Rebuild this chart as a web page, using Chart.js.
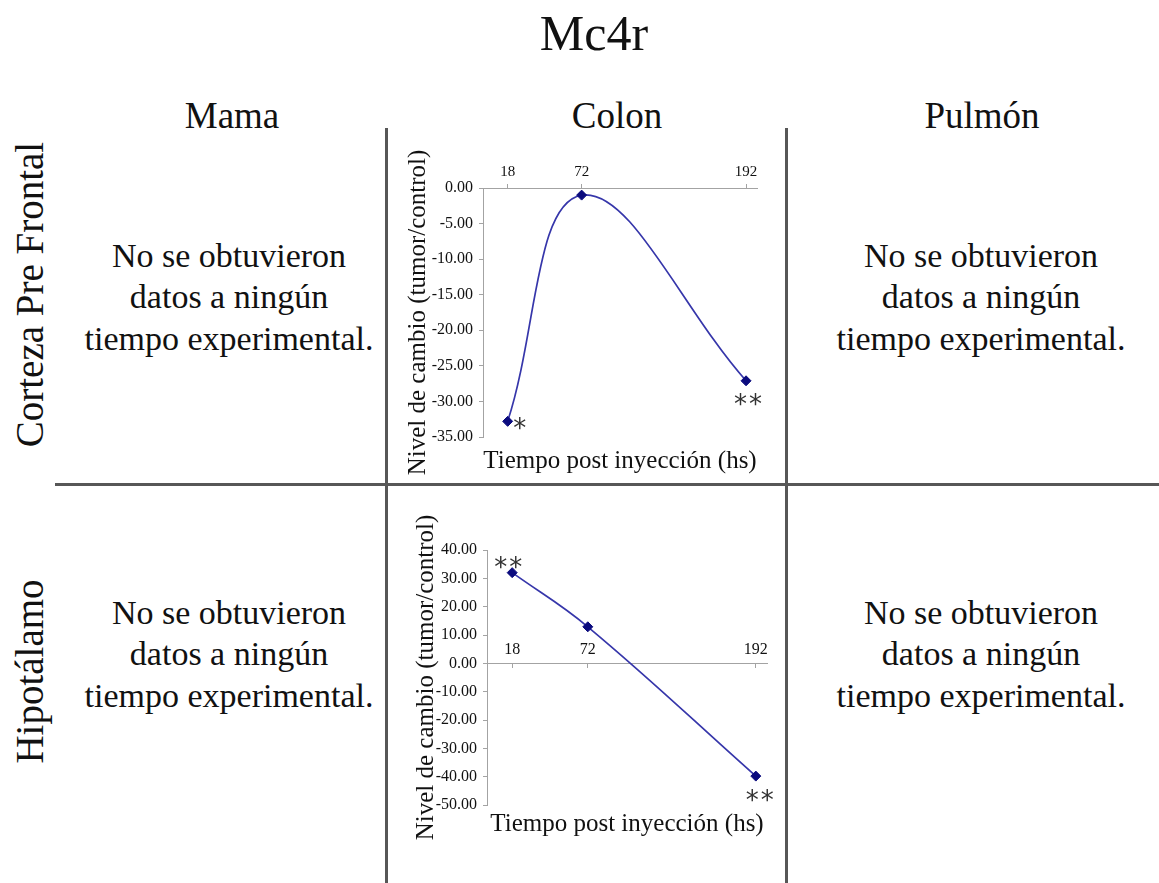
<!DOCTYPE html>
<html>
<head>
<meta charset="utf-8">
<title>Mc4r</title>
<script src="https://cdn.jsdelivr.net/npm/chart.js@4.4.1/dist/chart.umd.min.js"></script>
<style>
  html, body { margin: 0; padding: 0; background: #fff; }
  body {
    width: 1159px; height: 883px; position: relative; overflow: hidden;
    font-family: 'Liberation Serif', 'Times New Roman', serif; color: #111;
  }
  .t { position: absolute; white-space: nowrap; text-align: center; }
  .rule { position: absolute; background: #575757; }
  .rot { transform: rotate(-90deg); }
  canvas { position: absolute; }
</style>
</head>
<body>
  <div class="t" style="left:394px;width:400px;top:8px;font-size:50px;line-height:50px;">Mc4r</div>

  <div class="t" style="left:82px;width:300px;top:97px;font-size:37px;line-height:37px;">Mama</div>
  <div class="t" style="left:467px;width:300px;top:97px;font-size:37px;line-height:37px;">Colon</div>
  <div class="t" style="left:832px;width:300px;top:97px;font-size:37px;line-height:37px;">Pulmón</div>

  <div class="t rot" style="left:-181px;width:420px;top:274.5px;height:39px;font-size:39px;line-height:39px;">Corteza Pre Frontal</div>
  <div class="t rot" style="left:-181px;width:420px;top:651.5px;height:39px;font-size:39px;line-height:39px;">Hipotálamo</div>

  <div class="t" style="left:59px;width:340px;top:234.5px;font-size:34px;line-height:41.5px;">No se obtuvieron<br>datos a ningún<br>tiempo experimental.</div>
  <div class="t" style="left:811px;width:340px;top:234.5px;font-size:34px;line-height:41.5px;">No se obtuvieron<br>datos a ningún<br>tiempo experimental.</div>
  <div class="t" style="left:59px;width:340px;top:591.5px;font-size:34px;line-height:41.5px;">No se obtuvieron<br>datos a ningún<br>tiempo experimental.</div>
  <div class="t" style="left:811px;width:340px;top:591.5px;font-size:34px;line-height:41.5px;">No se obtuvieron<br>datos a ningún<br>tiempo experimental.</div>

  <div class="rule" style="left:385px;top:128px;width:3px;height:755px;"></div>
  <div class="rule" style="left:785px;top:128px;width:3px;height:755px;"></div>
  <div class="rule" style="left:55px;top:483px;width:1104px;height:3px;"></div>

  <canvas id="cortezaColon" width="370" height="337" style="left:400px;top:140px;"></canvas>
  <canvas id="hipotalamoColon" width="380" height="350" style="left:400px;top:490px;"></canvas>

<script>
// Sampling times (hours after injection) and fold change (tumor/control) in colon
const hours = [18, 72, 192];
const cortezaValues = [-32.8, -1.0, -27.1];
const hipotalamoValues = [32.0, 12.9, -39.8];

// Significance marks for each sampling time
const cortezaMarks = ['*', '', '**'];
const hipotalamoMarks = ['**', '', '**'];

// Value axis ranges: [min, max, step]
const cortezaRange = [-35, 0, 5];
const hipotalamoRange = [-50, 40, 10];
const hourRange = [0, 200];

const serif = "'Liberation Serif', 'Times New Roman', serif";
const axisGray = '#a3a3a3';
const lineBlue = '#3636aa';
const markerNavy = '#0b0b7e';

// Draws the asterisks next to the points, one glyph at a time
const sigMarks = {
  id: 'sigMarks',
  afterDatasetsDraw(chart, args, opts) {
    const { ctx } = chart;
    const meta = chart.getDatasetMeta(0);
    const gap = 15;
    ctx.save();
    ctx.font = "26px 'DejaVu Sans', sans-serif";
    ctx.fillStyle = '#333';
    ctx.textAlign = 'center';
    ctx.textBaseline = 'alphabetic';
    opts.marks.forEach((m, i) => {
      if (!m) return;
      const el = meta.data[i];
      const off = opts.offsets[i];
      const n = m.length;
      for (let k = 0; k < n; k++) {
        const cx = el.x + off[0] + (k - (n - 1) / 2) * gap;
        ctx.fillText(m[k], cx, el.y + off[1]);
      }
    });
    ctx.restore();
  }
};

function makeChart(id, values, marks, range, cfg) {
  const ctx = document.getElementById(id);
  return new Chart(ctx, {
    type: 'line',
    data: {
      datasets: [{
        data: hours.map((h, i) => ({ x: h, y: values[i] })),
        borderColor: lineBlue,
        borderWidth: 1.7,
        tension: 0.4,
        fill: false,
        pointStyle: 'rectRot',
        pointRadius: 5,
        pointBackgroundColor: markerNavy,
        pointBorderColor: markerNavy,
        pointBorderWidth: 1
      }]
    },
    options: {
      responsive: false,
      animation: false,
      layout: { padding: cfg.padding },
      scales: {
        x: {
          type: 'linear',
          position: cfg.xPosition,
          min: hourRange[0],
          max: hourRange[1],
          afterBuildTicks: s => { s.ticks = hours.map(v => ({ value: v })); },
          afterFit: cfg.xFit,
          grid: { drawOnChartArea: false, drawTicks: true, tickLength: 4, color: axisGray },
          border: { color: axisGray, width: 1 },
          ticks: {
            autoSkip: false, maxRotation: 0,
            font: { family: serif, size: cfg.xFont },
            color: '#111',
            padding: cfg.xPad,
            callback: v => String(v)
          }
        },
        // carries only the time-axis caption, centred under the plot area
        xCaption: {
          type: 'linear',
          axis: 'x',
          position: 'bottom',
          min: hourRange[0],
          max: hourRange[1],
          afterFit: s => { s.height = cfg.captionHeight; },
          grid: { display: false },
          border: { display: false },
          ticks: { display: false },
          title: {
            display: true,
            text: 'Tiempo post inyección (hs)',
            font: { family: serif, size: 25, lineHeight: 1 },
            color: '#111',
            padding: { top: 0, bottom: 3 }
          }
        },
        y: {
          min: range[0],
          max: range[1],
          afterFit: s => { s.width = cfg.yWidth; },
          grid: { drawOnChartArea: false, drawTicks: true, tickLength: 4, color: axisGray },
          border: { color: axisGray, width: 1 },
          ticks: {
            stepSize: range[2],
            font: { family: serif, size: 16 },
            color: '#111',
            padding: 6,
            callback: v => Number(v).toFixed(2)
          },
          title: {
            display: true,
            text: 'Nivel de cambio (tumor/control)',
            font: { family: serif, size: 25, lineHeight: 1 },
            color: '#111',
            padding: { top: cfg.yTitlePad, bottom: 0 }
          }
        }
      },
      plugins: {
        legend: { display: false },
        tooltip: { enabled: false },
        sigMarks: { marks: marks, offsets: cfg.markOffsets }
      }
    },
    plugins: [sigMarks]
  });
}

makeChart('cortezaColon', cortezaValues, cortezaMarks, cortezaRange, {
  padding: { left: 0, right: 13, top: 0, bottom: 0 },
  xPosition: 'top',
  xFit: s => { s.height = 48; },
  xFont: 15,
  xPad: 3,
  yWidth: 83,
  yTitlePad: 6,
  captionHeight: 40,
  markOffsets: [[12, 16], [0, 0], [2, 32]]
});

makeChart('hipotalamoColon', hipotalamoValues, hipotalamoMarks, hipotalamoRange, {
  padding: { left: 0, right: 13, top: 60, bottom: 0 },
  xPosition: { y: 0 },
  xFit: undefined,
  xFont: 16,
  xPad: -27,
  yWidth: 87,
  yTitlePad: 14,
  captionHeight: 35,
  markOffsets: [[-4, 3], [0, 0], [4, 33]]
});
</script>
</body>
</html>
